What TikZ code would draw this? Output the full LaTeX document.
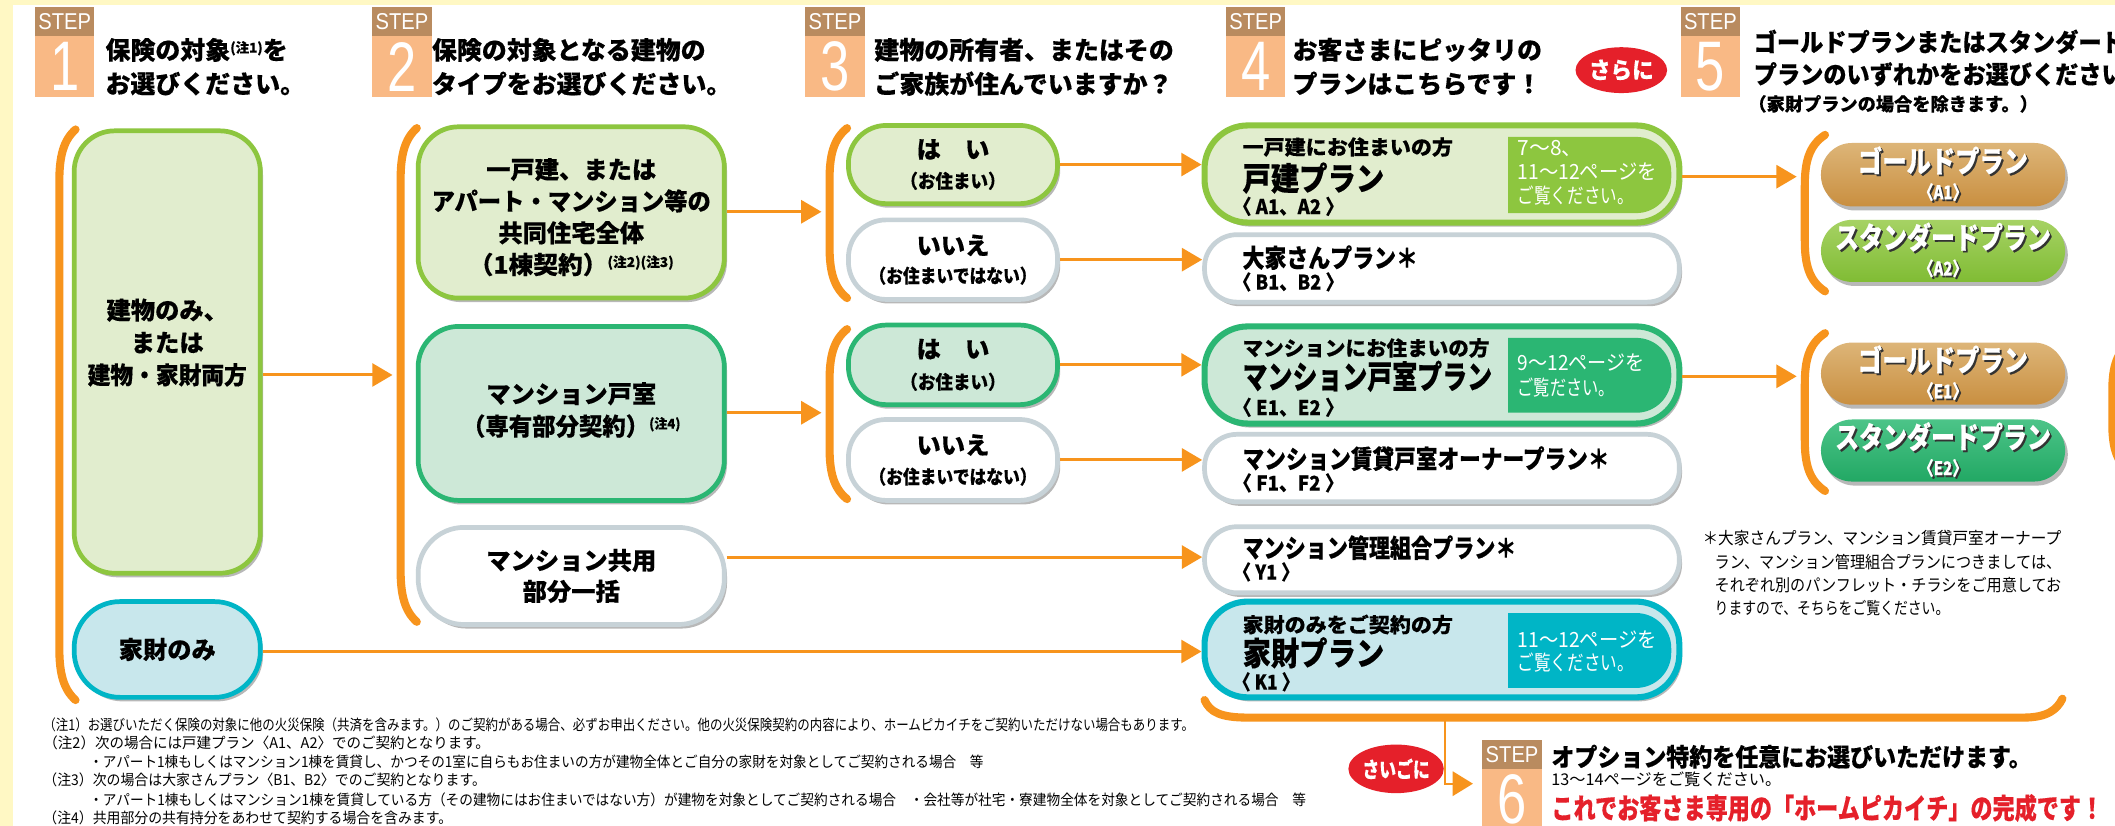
\documentclass[tikz,border=0pt]{standalone}
\usepackage{graphicx}
\usepackage{fontspec}
\setmainfont{Noto Sans CJK JP}[BoldFeatures={FakeBold=0.35}]
\newfontfamily\lat{Liberation Sans}
\usetikzlibrary{arrows.meta,shadows,shapes.geometric}
\definecolor{bgy}{HTML}{FFF8C4}
\definecolor{org}{HTML}{F7941D}
\definecolor{lgf}{HTML}{E1EDCE}
\definecolor{lgb}{HTML}{8DC63F}
\definecolor{dgf}{HTML}{CDE8D7}
\definecolor{dgb}{HTML}{2BB673}
\definecolor{cyf}{HTML}{C8E7EC}
\definecolor{cyb}{HTML}{00B5C6}
\definecolor{gyb}{HTML}{C7D2D7}
\definecolor{stb}{HTML}{B98B5F}
\definecolor{stn}{HTML}{F9B985}
\definecolor{rd}{HTML}{E5202A}
\definecolor{goldt}{HTML}{DDB578}
\definecolor{goldb}{HTML}{C98F40}
\definecolor{lgt}{HTML}{A6D264}
\definecolor{lgbt}{HTML}{80BC34}
\definecolor{dgt}{HTML}{4CC488}
\definecolor{dgbt}{HTML}{22A864}
\newcommand\fz[2]{\fontsize{#1}{#2}\selectfont}
\newcommand\fw[2]{\resizebox{#1pt}{\height}{#2}}
\newcommand\nt[1]{{\fz{10}{10}\raisebox{5pt}{#1}}}
\newcommand\shw[1]{\makebox[0pt][l]{\hspace{1.4pt}\raisebox{-1.4pt}{\textcolor{black!80}{#1}}}#1}
\newcommand\obrack[4]{\draw[brk] (#1,#3) .. controls (#2+3,#3+8) and (#2,#3+20) .. (#2,#3+38) -- (#2,#4-38) .. controls (#2,#4-20) and (#2+3,#4-8) .. (#1,#4);}
\tikzset{
 shd/.style={drop shadow={shadow xshift=2pt,shadow yshift=-3pt,opacity=0.28,fill=black}},
 bx/.style={shd, line width=3.5pt, inner sep=0pt, align=center, font=\bfseries\fz{18}{24}},
 lgbox/.style={bx, draw=lgb, fill=lgf},
 dgbox/.style={bx, draw=dgb, fill=dgf},
 cybox/.style={bx, draw=cyb, fill=cyf},
 gybox/.style={bx, draw=gyb, fill=white},
 arr/.style={draw=org, line width=2.2pt, -{Triangle[length=15pt,width=17pt]}},
 brk/.style={draw=org, line width=6pt, line cap=round},
 stepl/.style={fill=stb, minimum width=44pt, minimum height=22pt, inner sep=0pt, text=white, font=\lat\fz{17}{17}},
 stepn/.style={fill=stn, minimum width=44pt, minimum height=45pt, inner sep=0pt, text=white, font=\lat\fz{52}{52}},
 ttl/.style={anchor=west, inner sep=0pt, font=\bfseries\fz{18.5}{22}},
 lt/.style={anchor=west, inner sep=0pt},
 pill/.style={shd, draw=none, minimum width=181pt, rounded corners=23pt, inner sep=0pt, align=center, text=white, font=\bfseries\fz{14}{20}},
 oval/.style={ellipse, fill=rd, inner sep=0pt, text=white, font=\bfseries\fz{17}{17}},
 sub/.style={font=\bfseries\fz{15}{15}},
 ins/.style={anchor=west, inner sep=0pt, text=white, align=left},
}
\begin{document}
\begin{tikzpicture}[x=1pt,y=-1pt]
\useasboundingbox (0,0) rectangle (1568,612);
\clip (0,0) rectangle (1568,612);
\fill[bgy] (0,0) rectangle (1568,612);
\fill[white] (10,4) rectangle (1580,620);

% ---------- STEP headers ----------
\foreach \x/\n in {26/1,276/2,597/3,909/4,1246/5} {
  \node[stepl] (sl\n) at (\x+22,16) {\scalebox{0.88}[1]{STEP}};
  \node[stepn] (sn\n) at (\x+22,49.5) {\scalebox{0.75}[1]{\n}};
}
\node[stepl] (sl6) at (1121,559.5) {\scalebox{0.88}[1]{STEP}};
\node[stepn] (sn6) at (1121,592.5) {\scalebox{0.75}[1]{6}};

\node[ttl] (t1a) at (78,37) {保険の対象\nt{(注1)}を};
\node[ttl] (t1b) at (78,62) {お選びください。};
\node[ttl] (t2a) at (320,37) {保険の対象となる建物の};
\node[ttl] (t2b) at (320,62) {タイプをお選びください。};
\node[ttl] (t3a) at (648,37) {建物の所有者、またはその};
\node[ttl] (t3b) at (648,62) {ご家族が住んでいますか？};
\node[ttl] (t4a) at (958,37) {お客さまにピッタリの};
\node[ttl] (t4b) at (958,62) {プランはこちらです！};
\node[oval, minimum width=62pt, minimum height=34pt] (sara) at (1202,52) {\fw{48}{さらに}};
\node[ttl] (t5a) at (1300,31) {\fw{275}{ゴールドプランまたはスタンダード}};
\node[ttl] (t5b) at (1300,55) {\fw{275}{プランのいずれかをお選びください}};
\node[ttl, font=\bfseries\fz{13.5}{13.5}] (t5c) at (1296,77) {（家財プランの場合を除きます。）};

% ---------- brackets ----------
\obrack{56}{44}{96}{519}
\obrack{309}{297}{95}{461}
\obrack{628}{615}{95}{221}
\obrack{628}{615}{244}{370}
\obrack{1353}{1338}{100}{216}
\obrack{1353}{1338}{247}{364}
\obrack{1582}{1566}{252}{352}
\draw[brk] (893,519) .. controls (897,528) and (905,532) .. (925,532) -- (1500,532) .. controls (1518,532) and (1525,526) .. (1529,518);

% ---------- column 1 ----------
\node[lgbox, minimum width=138pt, minimum height=328pt, rounded corners=30pt] (B1) at (124,261) {};
\node[align=center, inner sep=0pt, font=\bfseries\fz{18}{24}] (B1t) at (124,254) {建物のみ、\\または\\\fw{118}{建物・家財両方}};
\node[cybox, minimum width=138pt, minimum height=71pt, rounded corners=34pt] (B2) at (124,481.5) {家財のみ};

% ---------- column 2 ----------
\node[lgbox, minimum width=227pt, minimum height=127pt, rounded corners=30pt] (C1) at (423.5,157.5) {};
\node[align=center, inner sep=0pt, font=\bfseries\fz{18}{23.5}] (C1t) at (423.5,161) {一戸建、または\\\fw{207}{アパート・マンション等の}\\共同住宅全体\\\fw{152}{（1棟契約）\nt{(注2)(注3)}}};
\node[dgbox, minimum width=227pt, minimum height=129pt, rounded corners=30pt] (C2) at (423.5,306.5) {};
\node[align=center, inner sep=0pt, font=\bfseries\fz{18}{24}] (C2t) at (423.5,304) {マンション戸室\\\fw{162}{（専有部分契約）\nt{(注4)}}};
\node[gybox, minimum width=227pt, minimum height=72pt, rounded corners=34pt, font=\bfseries\fz{18}{23}] (C3) at (423.5,427) {マンション共用\\部分一括};

% ---------- column 3 ----------
\node[lgbox, minimum width=155pt, minimum height=58pt, rounded corners=28pt, font=\bfseries\fz{18}{22}] (D1a) at (706.5,122) {は　い\\{\fz{14}{14}\fw{78}{（お住まい）}}};
\node[gybox, minimum width=155pt, minimum height=59pt, rounded corners=28pt, font=\bfseries\fz{18}{21}] (D1b) at (706.5,192.5) {いいえ\\{\fz{14}{14}\fw{124}{（お住まいではない）}}};
\node[dgbox, minimum width=155pt, minimum height=59pt, rounded corners=28pt, font=\bfseries\fz{18}{23}] (D2a) at (706.5,270.5) {は　い\\{\fz{14}{14}\fw{78}{（お住まい）}}};
\node[gybox, minimum width=155pt, minimum height=60pt, rounded corners=28pt, font=\bfseries\fz{18}{22}] (D2b) at (706.5,341) {いいえ\\{\fz{14}{14}\fw{124}{（お住まいではない）}}};

% ---------- column 4 ----------
\node[lgbox, line width=4.5pt, minimum width=352pt, minimum height=72pt, rounded corners=32pt] (E1) at (1069,129) {};
\node[gybox, minimum width=352pt, minimum height=50pt, rounded corners=24pt] (E2) at (1069,199) {};
\node[dgbox, line width=4.5pt, minimum width=352pt, minimum height=72pt, rounded corners=32pt] (E3) at (1069,278) {};
\node[gybox, minimum width=352pt, minimum height=50pt, rounded corners=24pt] (E4) at (1069,347) {};
\node[gybox, minimum width=352pt, minimum height=49pt, rounded corners=24pt] (E5) at (1069,415) {};
\node[cybox, line width=4.5pt, minimum width=352pt, minimum height=71pt, rounded corners=32pt] (E6) at (1069,481.5) {};

\begin{scope}
\clip (1118,90) rectangle (1260,530);
\fill[lgb, rounded corners=26pt] (1080,101.5) rectangle (1239,158);
\fill[dgb, rounded corners=26pt] (1080,250.5) rectangle (1239,306);
\fill[cyb, rounded corners=26pt] (1080,454.5) rectangle (1239,510);
\end{scope}
\node[ins, font=\fz{15.5}{18}] (E1p) at (1125,128) {7〜8、\\\fw{103}{11〜12ページを}\\\fw{86}{ご覧ください。}};
\node[ins, font=\fz{15.5}{19}] (E3p) at (1125,278.5) {\fw{94}{9〜12ページを}\\\fw{72}{ご覧ださい。}};
\node[ins, font=\fz{15.5}{17.5}] (E6p) at (1125,483) {\fw{103}{11〜12ページを}\\\fw{86}{ご覧ください。}};

\node[lt, font=\bfseries\fz{15}{15}] (E1a) at (921,109) {\fw{156}{一戸建にお住まいの方}};
\node[lt, font=\bfseries\fz{24}{24}] (E1b) at (921,132) {\fw{105}{戸建プラン}};
\node[lt, sub] (E1c) at (914,153) {\fw{82}{〈 A1、A2 〉}};
\node[lt, font=\bfseries\fz{19}{19}] (E2a) at (921,191) {\fw{130}{大家さんプラン＊}};
\node[lt, sub] (E2b) at (914,209) {\fw{82}{〈 B1、B2 〉}};
\node[lt, font=\bfseries\fz{15}{15}] (E3a) at (921,258) {\fw{183}{マンションにお住まいの方}};
\node[lt, font=\bfseries\fz{24}{24}] (E3b) at (921,279) {\fw{185}{マンション戸室プラン}};
\node[lt, sub] (E3c) at (914,302) {\fw{82}{〈 E1、E2 〉}};
\node[lt, font=\bfseries\fz{19}{19}] (E4a) at (921,340) {\fw{272}{マンション賃貸戸室オーナープラン＊}};
\node[lt, sub] (E4b) at (914,358) {\fw{82}{〈 F1、F2 〉}};
\node[lt, font=\bfseries\fz{19}{19}] (E5a) at (921,406) {\fw{203}{マンション管理組合プラン＊}};
\node[lt, sub] (E5b) at (914,424) {\fw{49}{〈 Y1 〉}};
\node[lt, font=\bfseries\fz{15}{15}] (E6a) at (921,463) {\fw{156}{家財のみをご契約の方}};
\node[lt, font=\bfseries\fz{24}{24}] (E6b) at (921,484) {\fw{105}{家財プラン}};
\node[lt, sub] (E6c) at (914,505.5) {\fw{49}{〈 K1 〉}};

% ---------- column 5 ----------
\node[pill, minimum height=47pt, top color=goldt, bottom color=goldb] (F1a) at (1440.5,129.5) {{\fz{22}{22}\shw{\fw{126}{ゴールドプラン}}}\\\shw{\fw{36}{〈A1〉}}};
\node[pill, minimum height=46pt, top color=lgt, bottom color=lgbt] (F1b) at (1440.5,186) {{\fz{22}{22}\shw{\fw{160}{スタンダードプラン}}}\\\shw{\fw{36}{〈A2〉}}};
\node[pill, minimum height=46pt, top color=goldt, bottom color=goldb] (F2a) at (1440.5,277) {{\fz{22}{22}\shw{\fw{126}{ゴールドプラン}}}\\\shw{\fw{36}{〈E1〉}}};
\node[pill, minimum height=46pt, top color=dgt, bottom color=dgbt] (F2b) at (1440.5,334) {{\fz{22}{22}\shw{\fw{160}{スタンダードプラン}}}\\\shw{\fw{36}{〈E2〉}}};

\node[lt, font=\fz{12.5}{12.5}] (fn1) at (1262,399) {\fw{266}{＊大家さんプラン、マンション賃貸戸室オーナープ}};
\node[lt, font=\fz{12.5}{12.5}] (fn2) at (1271,416.5) {\fw{257}{ラン、マンション管理組合プランにつきましては、}};
\node[lt, font=\fz{12.5}{12.5}] (fn3) at (1271,433.5) {\fw{257}{それぞれ別のパンフレット・チラシをご用意してお}};
\node[lt, font=\fz{12.5}{12.5}] (fn4) at (1271,451) {\fw{174}{りますので、そちらをご覧ください。}};

% ---------- arrows ----------
\coordinate (aC) at (291,278);
\coordinate (aD1) at (609,157);
\coordinate (aD2) at (609,306);
\coordinate (aF1) at (1332,131);
\coordinate (aF2) at (1332,279);
\draw[arr] (B1.east |- aC) -- (aC);
\draw[arr] (C1.east |- aD1) -- (aD1);
\draw[arr] (C2.east |- aD2) -- (aD2);
\draw[arr] (C3.east |- 0,413) -- (E5.west |- 0,413);
\draw[arr] (B2.east |- 0,483) -- (E6.west |- 0,483);
\draw[arr] (D1a.east) -- (E1.west |- D1a.east);
\draw[arr] (D1b.east) -- (E2.west |- D1b.east);
\draw[arr] (D2a.east) -- (E3.west |- D2a.east);
\draw[arr] (D2b.east) -- (E4.west |- D2b.east);
\draw[arr] (E1.east |- aF1) -- (aF1);
\draw[arr] (E3.east |- aF2) -- (aF2);
\coordinate (g0) at (1071,532);
\coordinate (g1) at (1092,581);
\draw[draw=org, line width=1.6pt, -{Triangle[length=15pt,width=18pt]}] (g0) |- (g1);

% ---------- step 6 ----------
\node[oval, minimum width=62pt, minimum height=36pt, font=\bfseries\fz{16}{16}] (saigo) at (1035,570) {\fw{50}{さいごに}};
\node[ttl] (t6a) at (1150,561) {\fw{356}{オプション特約を任意にお選びいただけます。}};
\node[lt, font=\fz{12}{12}] (t6b) at (1150,578) {13〜14ページをご覧ください。};
\node[lt, font=\bfseries\fz{21}{21}, text=rd] (t6c) at (1150,599) {\fw{409}{これでお客さま専用の「ホームピカイチ」の完成です！}};

% ---------- footnotes ----------
\node[lt, font=\fz{11}{11}] (n1) at (32,537.5) {\fw{853}{（注1）お選びいただく保険の対象に他の火災保険（共済を含みます。）のご契約がある場合、必ずお申出ください。他の火災保険契約の内容により、ホームピカイチをご契約いただけない場合もあります。}};
\node[lt, font=\fz{11}{11}] (n2) at (32,551) {\fw{331}{（注2）次の場合には戸建プラン〈A1、A2〉でのご契約となります。}};
\node[lt, font=\fz{11}{11}] (n3) at (66,565) {\fw{663}{・アパート1棟もしくはマンション1棟を賃貸し、かつその1室に自らもお住まいの方が建物全体とご自分の家財を対象としてご契約される場合　等}};
\node[lt, font=\fz{11}{11}] (n4) at (32,578.5) {\fw{328}{（注3）次の場合は大家さんプラン〈B1、B2〉でのご契約となります。}};
\node[lt, font=\fz{11}{11}] (n5) at (66,593) {\fw{902}{・アパート1棟もしくはマンション1棟を賃貸している方（その建物にはお住まいではない方）が建物を対象としてご契約される場合　・会社等が社宅・寮建物全体を対象としてご契約される場合　等}};
\node[lt, font=\fz{11}{11}] (n6) at (32,606.5) {\fw{303}{（注4）共用部分の共有持分をあわせて契約する場合を含みます。}};
\end{tikzpicture}
\end{document}
